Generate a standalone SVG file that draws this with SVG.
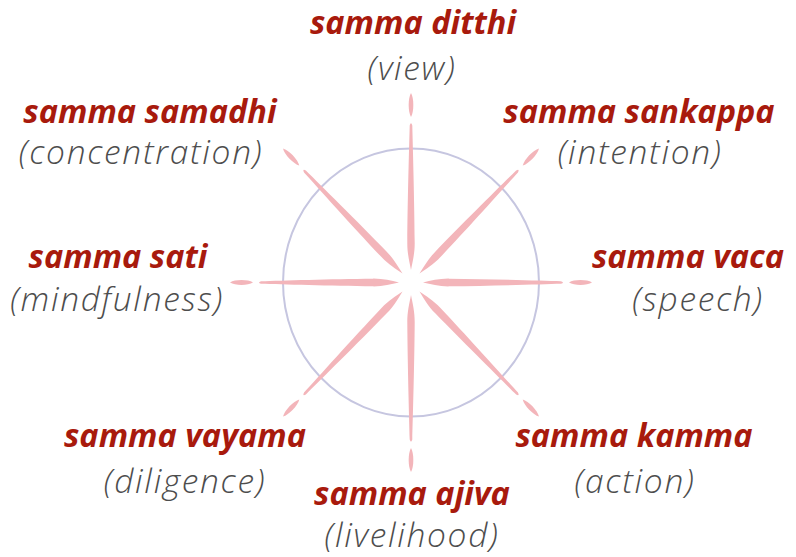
<svg xmlns="http://www.w3.org/2000/svg" xmlns:xlink="http://www.w3.org/1999/xlink" width="796" height="557" viewBox="0 0 796 557">
<style>
.t{font-family:"Open Sans","Noto Sans","DejaVu Sans",sans-serif;font-style:italic;font-weight:700;font-size:32.5px;fill:#a81a0d;text-anchor:middle}
.s{font-family:"Open Sans","Noto Sans","DejaVu Sans",sans-serif;font-style:italic;font-weight:300;font-size:33.5px;letter-spacing:1.7px;fill:#4d4d4d;text-anchor:middle}
.sp{fill:#f3b5ba}
</style>
<defs>
<g id="spoke">
<path class="sp" d="M0,-12 C1.6,-20 3.8,-28 3.7,-38 C3.4,-80 1.8,-130 1.3,-150 Q0,-154 -1.3,-150 C-1.8,-130 -3.4,-80 -3.7,-38 C-3.8,-28 -1.6,-20 0,-12 Z"/>
<path class="sp" d="M0,-158 C3.1,-163 3.1,-176 0,-181 C-3.1,-176 -3.1,-163 0,-158 Z"/>
</g>
</defs>
<rect width="796" height="557" fill="#ffffff"/>
<g id="wheel" transform="translate(411,282.5) scale(1,1.047)">
<circle cx="0" cy="0" r="128" fill="none" stroke="#c6c6e0" stroke-width="2"/>
<use xlink:href="#spoke"/>
<use xlink:href="#spoke" transform="rotate(45)"/>
<use xlink:href="#spoke" transform="rotate(90)"/>
<use xlink:href="#spoke" transform="rotate(135)"/>
<use xlink:href="#spoke" transform="rotate(180)"/>
<use xlink:href="#spoke" transform="rotate(225)"/>
<use xlink:href="#spoke" transform="rotate(270)"/>
<use xlink:href="#spoke" transform="rotate(315)"/>
</g>
<g id="connectors"></g>
<g id="ditthi"><text class="t" x="413" y="34">samma ditthi</text><text class="s" x="412" y="80">(view)</text></g>
<g id="sankappa"><text class="t" x="639" y="123">samma sankappa</text><text class="s" x="640" y="164">(intention)</text></g>
<g id="vaca"><text class="t" x="688" y="268">samma vaca</text><text class="s" x="698" y="311">(speech)</text></g>
<g id="kamma"><text class="t" x="634" y="447">samma kamma</text><text class="s" x="635" y="493">(action)</text></g>
<g id="ajiva"><text class="t" x="412" y="505">samma ajiva</text><text class="s" x="412" y="547">(livelihood)</text></g>
<g id="vayama"><text class="t" x="185" y="447">samma vayama</text><text class="s" x="185" y="493">(diligence)</text></g>
<g id="sati"><text class="t" x="118" y="268">samma sati</text><text class="s" x="117" y="311">(mindfulness)</text></g>
<g id="samadhi"><text class="t" x="150" y="123">samma samadhi</text><text class="s" x="141" y="164">(concentration)</text></g>
</svg>
